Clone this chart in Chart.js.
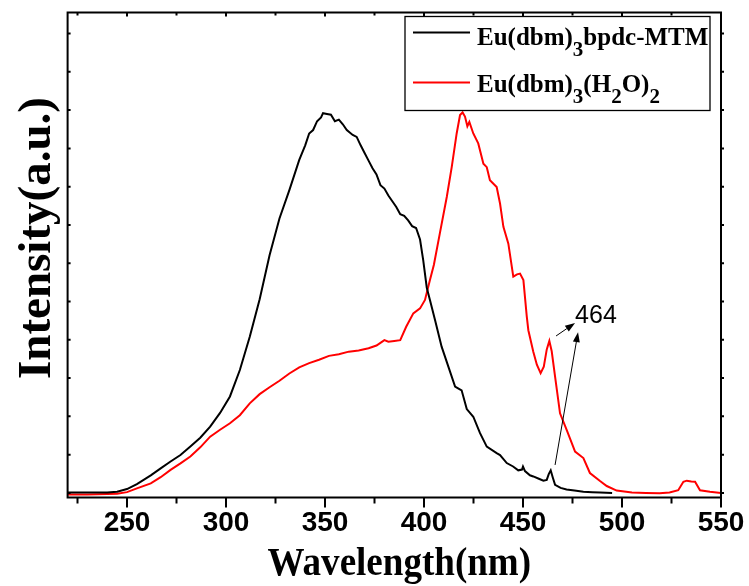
<!DOCTYPE html>
<html>
<head>
<meta charset="utf-8">
<script src="https://cdn.jsdelivr.net/npm/chart.js@4/dist/chart.umd.min.js"></script>
<style>
body{margin:0;background:#fff}
#wrap{width:749px;height:586px;position:relative}
</style>
</head>
<body>
<div id="wrap"><canvas id="chartdiv"></canvas></div>
<script>
// excitation spectra: wavelength (nm) / intensity (a.u.)
var mtmWl = [220,230,240,245,250,255,262,267,272,277,282,287,292,297,302,307,312,317,322,327,332,337,340,342,344,346,348,349,351,353,355,357,359,361,364,366,368,370,372,374,376,378,380,382,384,386,388,390,392,394,396,398,399.6,401.4,403,405.6,408.9,412.3,415.7,417,419,421.6,424.9,428.3,431.7,436.7,438.4,441.8,445,447.6,449.5,450,451,453.5,455.2,458,460.3,462,463,464,465,466.2,469,472,476,480.5,485,489,495];
var mtmInt = [0.01,0.01,0.01,0.03,0.10,0.23,0.46,0.64,0.82,0.99,1.21,1.44,1.73,2.09,2.52,3.21,4.08,5.06,6.21,7.17,7.91,8.70,9.08,9.39,9.48,9.71,9.81,9.92,9.90,9.88,9.71,9.75,9.63,9.48,9.35,9.30,9.08,8.88,8.68,8.48,8.32,8.04,7.95,7.77,7.62,7.47,7.28,7.24,7.12,6.97,6.92,6.62,6.08,5.36,5.04,4.51,3.82,3.30,2.78,2.74,2.68,2.19,1.99,1.56,1.21,1.04,0.99,0.78,0.69,0.59,0.61,0.69,0.57,0.46,0.43,0.37,0.32,0.34,0.49,0.59,0.41,0.21,0.13,0.09,0.06,0.03,0.02,0.01,0.00];

var h2oWl = [220,230,240,245,250,255,262,267,272,277,282,287,292,297,302,307,312,317,322,327,332,337,342,347,352,357,362,367,372,376,378,380,382,385,388,391,394.6,398,400.5,403,405,408,411.5,414,416.5,418.2,419.5,420.7,421.9,422.9,424.9,427.4,430,431.7,433.3,436.7,438.4,440.1,442.6,445.1,447,448.5,450.2,451.9,452.7,455.2,457,458.9,460.5,462,463.3,464.5,466.2,468.7,472.1,476.3,480.5,483.8,488.9,492.3,497.3,505,512,519,524,528.4,531,532.7,535,536.9,539.4,544.4,550];
var h2oInt = [-0.04,-0.04,-0.03,-0.02,0.02,0.12,0.25,0.41,0.60,0.77,0.95,1.19,1.47,1.65,1.82,2.03,2.34,2.58,2.76,2.93,3.12,3.28,3.39,3.48,3.58,3.62,3.69,3.72,3.78,3.85,3.92,3.99,3.95,3.97,3.99,4.34,4.69,4.82,5.04,5.56,5.96,6.78,7.73,8.51,9.39,9.87,9.94,9.83,9.58,9.69,9.39,9.13,8.60,8.51,8.17,7.99,7.56,6.95,6.51,5.65,5.71,5.73,5.56,4.61,4.25,3.69,3.35,3.13,3.30,3.75,3.97,3.70,3.04,2.08,1.64,1.08,0.91,0.52,0.31,0.18,0.06,0.01,0.00,-0.01,0.01,0.07,0.29,0.32,0.30,0.29,0.07,0.03,0.00];

// legend names, pieces flagged true are subscripts
var mtmName = [["Eu(dbm)",false],["3",true],["bpdc-MTM",false]];
var h2oName = [["Eu(dbm)",false],["3",true],["(H",false],["2",true],["O)",false],["2",true]];

var xTitle = 'Wavelength(nm)';
var yTitle = 'Intensity(a.u.)';
var xMajor = [250,300,350,400,450,500,550];
var xMinor = [225,275,325,375,425,475,525];
var yTickVals = [0,1,2,3,4,5,6,7,8,9,10,11,12];

// the 464 nm peak callout, in data units
var peakText = '464';
var peakTextAt = [476.3, 4.44];
var peakArrows = [[466.7,4.10,476.3,4.44],[466.2,0.73,477.8,4.20]];

function pts(xs, ys){
    var out = [];
    for(var i=0;i<xs.length;i++){ out.push({x:xs[i], y:ys[i]}); }
    return out;
}

var axesPlugin = {
    id: 'axesFrame',
    afterDraw: function(chart){
        var ctx = chart.ctx, a = chart.chartArea;
        var xs = chart.scales.x, ys = chart.scales.y;
        ctx.save();
        ctx.strokeStyle = '#000';
        ctx.lineWidth = 2;
        ctx.strokeRect(a.left, a.top, a.right - a.left, a.bottom - a.top);
        ctx.beginPath();
        xMajor.forEach(function(v){
            var px = xs.getPixelForValue(v);
            ctx.moveTo(px, a.bottom); ctx.lineTo(px, a.bottom + 10);
            ctx.moveTo(px, a.top); ctx.lineTo(px, a.top + 4);
        });
        xMinor.forEach(function(v){
            var px = xs.getPixelForValue(v);
            ctx.moveTo(px, a.bottom); ctx.lineTo(px, a.bottom + 6);
            ctx.moveTo(px, a.top); ctx.lineTo(px, a.top + 3);
        });
        yTickVals.forEach(function(v){
            var py = ys.getPixelForValue(v);
            ctx.moveTo(a.left, py); ctx.lineTo(a.left + 3, py);
            ctx.moveTo(a.right, py); ctx.lineTo(a.right + 3, py);
        });
        ctx.stroke();

        // axis titles
        ctx.fillStyle = '#000';
        ctx.textAlign = 'center';
        ctx.textBaseline = 'alphabetic';
        ctx.save();
        ctx.translate((a.left + a.right) / 2 + 5, 575);
        ctx.scale(0.95, 1);
        ctx.font = 'bold 39px "Liberation Serif"';
        ctx.fillText(xTitle, 0, 0);
        ctx.restore();
        ctx.save();
        ctx.translate(50, (a.top + a.bottom) / 2 - 17);
        ctx.rotate(-Math.PI / 2);
        ctx.font = 'bold 47px "Liberation Serif"';
        ctx.fillText(yTitle, 0, 0);
        ctx.restore();
        ctx.restore();
    }
};

function drawName(ctx, parts, x, y){
    parts.forEach(function(p){
        if(p[1]){
            ctx.font = 'bold 21px "Liberation Serif"';
            ctx.fillText(p[0], x, y + 11);
        } else {
            ctx.font = 'bold 25px "Liberation Serif"';
            ctx.fillText(p[0], x, y);
        }
        x += ctx.measureText(p[0]).width;
    });
}

var legendPlugin = {
    id: 'subLegend',
    afterDraw: function(chart){
        var ctx = chart.ctx, a = chart.chartArea;
        var right = a.right - 11, top = a.top + 4;
        var left = right - 305, bottom = top + 94;
        ctx.save();
        ctx.strokeStyle = '#000';
        ctx.lineWidth = 1.3;
        ctx.strokeRect(left, top, right - left, bottom - top);
        var rows = [[mtmName, chart.data.datasets[0].borderColor, top + 16, top + 28],
                    [h2oName, chart.data.datasets[1].borderColor, top + 66, top + 75]];
        rows.forEach(function(r){
            ctx.strokeStyle = r[1];
            ctx.lineWidth = 2;
            ctx.beginPath();
            ctx.moveTo(left + 8, r[2]); ctx.lineTo(left + 65, r[2]);
            ctx.stroke();
            ctx.fillStyle = '#000';
            ctx.textBaseline = 'alphabetic';
            drawName(ctx, r[0], left + 72, r[3]);
        });
        ctx.restore();
    }
};

function arrow(ctx, x0, y0, x1, y1){
    var ang = Math.atan2(y1 - y0, x1 - x0), len = 10, w = 3.5;
    ctx.beginPath();
    ctx.moveTo(x0, y0);
    ctx.lineTo(x1 - Math.cos(ang) * len, y1 - Math.sin(ang) * len);
    ctx.stroke();
    ctx.beginPath();
    ctx.moveTo(x1, y1);
    ctx.lineTo(x1 - Math.cos(ang) * len - Math.sin(ang) * w, y1 - Math.sin(ang) * len + Math.cos(ang) * w);
    ctx.lineTo(x1 - Math.cos(ang) * len + Math.sin(ang) * w, y1 - Math.sin(ang) * len - Math.cos(ang) * w);
    ctx.closePath();
    ctx.fill();
}

var peakPlugin = {
    id: 'peakCallout',
    afterDatasetsDraw: function(chart){
        var ctx = chart.ctx, xs = chart.scales.x, ys = chart.scales.y;
        ctx.save();
        ctx.strokeStyle = '#000';
        ctx.fillStyle = '#000';
        ctx.lineWidth = 1;
        peakArrows.forEach(function(p){
            arrow(ctx, xs.getPixelForValue(p[0]), ys.getPixelForValue(p[1]),
                       xs.getPixelForValue(p[2]), ys.getPixelForValue(p[3]));
        });
        ctx.font = '25px "Liberation Sans"';
        ctx.textBaseline = 'alphabetic';
        ctx.fillText(peakText, xs.getPixelForValue(peakTextAt[0]), ys.getPixelForValue(peakTextAt[1]));
        ctx.restore();
    }
};

var ctxgen = document.getElementById('chartdiv').getContext('2d');
var chartgen = new Chart(ctxgen, {
    type: 'line',
    data: {
        datasets: [{
            label: 'Eu(dbm)3bpdc-MTM',
            data: pts(mtmWl, mtmInt),
            borderColor: '#000000',
            borderWidth: 2,
            pointRadius: 0,
            fill: false
        },{
            label: 'Eu(dbm)3(H2O)2',
            data: pts(h2oWl, h2oInt),
            borderColor: '#ff0000',
            borderWidth: 2,
            pointRadius: 0,
            fill: false
        }]
    },
    options: {
        responsive: true,
        maintainAspectRatio: false,
        animation: false,
        layout: { padding: { top: 12.5, right: 28, left: 0, bottom: 0 } },
        plugins: {
            legend: { display: false },
            tooltip: { enabled: false }
        },
        scales: {
            x: {
                type: 'linear',
                min: 220,
                max: 550,
                afterBuildTicks: function(s){ s.ticks = xMajor.map(function(v){ return {value:v}; }); },
                afterFit: function(s){ s.height = 88.5; s.paddingLeft = 0; s.paddingRight = 0; },
                grid: { display: false, drawTicks: false },
                border: { display: false },
                ticks: {
                    padding: 11.5,
                    color: '#000',
                    maxRotation: 0,
                    font: { family: '"Liberation Sans"', size: 28, weight: 'bold', lineHeight: 1 }
                }
            },
            y: {
                min: -0.12,
                max: 12.55,
                afterBuildTicks: function(s){ s.ticks = yTickVals.map(function(v){ return {value:v}; }); },
                afterFit: function(s){ s.width = 67.6; s.paddingTop = 0; s.paddingBottom = 0; },
                grid: { display: false, drawTicks: false },
                border: { display: false },
                ticks: { display: false }
            }
        }
    },
    plugins: [axesPlugin, legendPlugin, peakPlugin]
});
</script>
</body>
</html>
